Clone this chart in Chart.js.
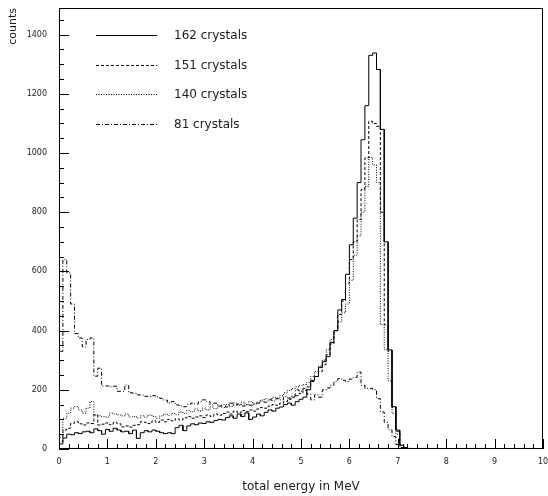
<!DOCTYPE html>
<html>
<head>
<meta charset="utf-8">
<script src="https://cdn.jsdelivr.net/npm/chart.js@4.4.0/dist/chart.umd.min.js"></script>
<style>
  html, body { margin: 0; padding: 0; background: #fff; }
  #wrap { width: 548px; height: 496px; }
</style>
</head>
<body>
<div id="wrap"><canvas id="spectrum"></canvas></div>
<script>
// histogram binning (MeV), bins start at 0
const BIN_WIDTH = 0.08;

const seriesLabels = ['162 crystals', '151 crystals', '140 crystals', '81 crystals'];

const counts162 = [
  17, 37, 50, 48, 55, 52, 58, 60, 55, 68, 62, 50, 66, 60, 70, 64, 58, 60, 52, 64,
  36, 55, 62, 58, 64, 60, 55, 52, 55, 52, 72, 80, 62, 78, 85, 82, 88, 86, 92, 90,
  96, 100, 98, 106, 112, 104, 118, 110, 122, 100, 108, 118, 112, 124, 132, 128, 138, 142, 150, 155,
  148, 160, 168, 175, 200, 232, 245, 275, 295, 312, 360, 400, 470, 505, 590, 690, 780, 900, 1045, 1160,
  1330, 1338, 1282, 1080, 700, 335, 143, 64, 13, 5, 2
];
const counts151 = [
  25, 64, 70, 87, 92, 85, 81, 88, 86, 115, 81, 84, 88, 82, 90, 85, 75, 78, 74, 80,
  82, 92, 90, 86, 95, 90, 98, 92, 100, 95, 102, 98, 105, 110, 104, 108, 112, 106, 115, 110,
  118, 114, 120, 125, 118, 128, 122, 130, 126, 132, 128, 135, 140, 138, 145, 150, 148, 155, 160, 168,
  175, 180, 188, 198, 210, 228, 245, 262, 285, 318, 355, 400, 455, 500, 560, 640, 700, 775, 876, 984,
  1107, 1100, 1090, 800, 420, 330, 140, 60, 15, 5, 1
];
const counts140 = [
  40, 104, 121, 138, 143, 132, 121, 138, 160, 115, 112, 109, 108, 121, 118, 115, 112, 118, 108, 110,
  105, 112, 108, 115, 110, 104, 112, 118, 114, 120, 116, 125, 120, 130, 126, 135, 128, 138, 132, 142,
  136, 145, 140, 150, 144, 155, 148, 158, 150, 160, 152, 158, 165, 170, 168, 175, 172, 180, 190, 198,
  205, 210, 215, 218, 225, 245, 262, 280, 300, 335, 370, 400, 430, 460, 490, 570, 655, 720, 800, 887,
  985, 960, 900, 420, 335, 230, 120, 50, 12, 3, 0
];
const counts81 = [
  330, 640, 595, 490, 390, 375, 345, 370, 375, 246, 273, 213, 213, 210, 212, 195, 195, 216, 190, 188,
  183, 182, 178, 177, 180, 176, 171, 165, 155, 160, 149, 146, 143, 150, 155, 152, 160, 166, 160, 149,
  155, 145, 150, 142, 155, 148, 152, 145, 150, 148, 152, 155, 160, 158, 166, 162, 170, 166, 177, 172,
  178, 200, 195, 205, 185, 166, 183, 175, 200, 206, 215, 228, 238, 232, 228, 236, 242, 260, 215, 205,
  205, 200, 170, 125, 90, 65, 42, 15, 5, 2, 0
];

const dashStyles = [[], [3, 2], [1, 1.5], [4, 2, 1, 2]];

// axis ranges and tick spacing
const X_MIN = 0, X_MAX = 10, X_MAJOR = 1, X_MINOR = 0.2;
const Y_MIN = 0, Y_MAX = 1490, Y_MAJOR = 200, Y_MINOR = 50, Y_LABEL_TOP = 1400;

// turn bin contents into a histogram outline (flat top per bin)
function outline(values) {
  const pts = [{ x: 0, y: 0 }];
  values.forEach((v, i) => {
    pts.push({ x: i * BIN_WIDTH, y: v });
    pts.push({ x: (i + 1) * BIN_WIDTH, y: v });
  });
  pts.push({ x: values.length * BIN_WIDTH, y: 0 });
  return pts;
}

const allCounts = [counts162, counts151, counts140, counts81];

const FONT = 'DejaVu Sans';
const INK = '#1a1a1a';

// frame with inward ticks, like the old HBOOK style
const framePlugin = {
  id: 'frame',
  afterDatasetsDraw(chart) {
    const { ctx, chartArea: a, scales } = chart;
    const xs = scales.x, ys = scales.y;
    ctx.save();
    ctx.strokeStyle = '#000';
    ctx.lineWidth = 1;
    ctx.strokeRect(a.left + 0.5, a.top + 0.5, a.right - a.left - 1, a.bottom - a.top - 1);
    ctx.beginPath();
    for (let v = X_MIN; v <= X_MAX + 1e-9; v += X_MINOR) {
      const major = Math.abs(v / X_MAJOR - Math.round(v / X_MAJOR)) < 1e-6;
      const px = Math.round(xs.getPixelForValue(v)) + 0.5;
      ctx.moveTo(px, a.bottom);
      ctx.lineTo(px, a.bottom - (major ? 10 : 5));
    }
    for (let v = Y_MIN; v <= Y_MAX + 1e-9; v += Y_MINOR) {
      const major = v % Y_MAJOR === 0;
      const py = Math.round(ys.getPixelForValue(v)) + 0.5;
      ctx.moveTo(a.left, py);
      ctx.lineTo(a.left + (major ? 10 : 5), py);
    }
    ctx.stroke();
    ctx.restore();
  }
};

// legend box in the upper left corner of the plot
const legendPlugin = {
  id: 'insetLegend',
  afterDraw(chart) {
    const { ctx, chartArea: a } = chart;
    const x0 = a.left + 37, x1 = a.left + 98, tx = a.left + 115;
    ctx.save();
    ctx.font = '12px "' + FONT + '"';
    ctx.textBaseline = 'middle';
    ctx.fillStyle = INK;
    chart.data.datasets.forEach((ds, i) => {
      const y = Math.round(a.top + 27 + i * 29.7) + 0.5;
      ctx.beginPath();
      ctx.setLineDash(ds.borderDash || []);
      ctx.strokeStyle = '#000';
      ctx.lineWidth = 1;
      ctx.moveTo(x0, y);
      ctx.lineTo(x1, y);
      ctx.stroke();
      ctx.setLineDash([]);
      ctx.fillText(ds.label, tx, y);
    });
    ctx.restore();
  }
};

const ctx = document.getElementById('spectrum').getContext('2d');
new Chart(ctx, {
  type: 'line',
  data: {
    datasets: seriesLabels.map((label, i) => ({
      label: label,
      data: outline(allCounts[i]),
      borderColor: '#000',
      borderWidth: 1,
      borderDash: dashStyles[i],
      pointRadius: 0,
      fill: false,
      tension: 0
    }))
  },
  options: {
    responsive: true,
    maintainAspectRatio: false,
    animation: false,
    devicePixelRatio: 1,
    layout: { padding: { left: 0, right: 5, top: 8, bottom: 0 } },
    plugins: {
      legend: { display: false },
      tooltip: { enabled: false }
    },
    scales: {
      x: {
        type: 'linear',
        min: X_MIN,
        max: X_MAX,
        grid: { display: false, drawTicks: false },
        border: { display: false },
        ticks: {
          stepSize: X_MAJOR,
          maxRotation: 0,
          padding: 8,
          color: INK,
          font: { family: FONT, size: 8 },
          callback: (v) => String(v)
        },
        title: {
          display: true,
          text: 'total energy in MeV',
          color: INK,
          font: { family: FONT, size: 12 },
          padding: { top: 0, bottom: 2 }
        },
        afterFit: (s) => {
          s.height = 47;
          s.paddingLeft = 0;
          s.paddingRight = 0;
        }
      },
      y: {
        type: 'linear',
        min: Y_MIN,
        max: Y_MAX,
        grid: { display: false, drawTicks: false },
        border: { display: false },
        ticks: {
          stepSize: Y_MAJOR,
          padding: 12,
          color: INK,
          font: { family: FONT, size: 8 },
          callback: (v) => String(v)
        },
        afterBuildTicks: (s) => {
          s.ticks = s.ticks.filter(t => t.value % Y_MAJOR === 0 && t.value <= Y_LABEL_TOP);
        },
        title: {
          display: true,
          text: 'counts',
          align: 'end',
          color: INK,
          font: { family: FONT, size: 11 },
          padding: { top: 7, bottom: 0 }
        },
        afterFit: (s) => {
          s.width = 59;
          s.paddingTop = 0;
          s.paddingBottom = 0;
        }
      }
    }
  },
  plugins: [framePlugin, legendPlugin]
});
</script>
</body>
</html>
